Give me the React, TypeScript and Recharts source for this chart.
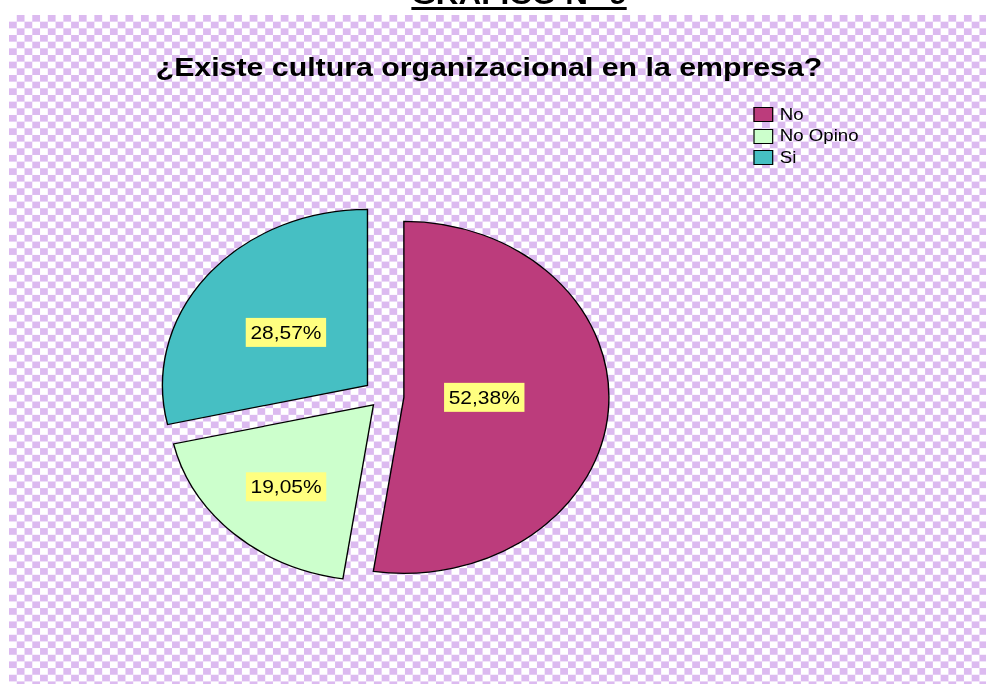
import React from 'react';
import { PieChart, Pie, Cell } from 'recharts';

// ---- data ----
const CATEGORIES = ['No', 'No Opino', 'Si'];
const COUNTS = [11, 4, 6];
const COLORS = ['#BC3C7C', '#CCFFCC', '#46BFC3'];
const TITLE = '¿Existe cultura organizacional en la empresa?';
const HEADING = 'GRAFICO N° 9';

// ---- layout / style ----
const EXPLODE = [18, 12, 17];
const LABEL_DX = [69, -75, -70];
const LABEL_DY = [0, 82, -53];
const SX = 1.165;
const W = 838.6;
const H = 669;
const CX = 321;
const CY = 381;
const R = 176;
const RAD = Math.PI / 180;
const FONT = '"Liberation Sans", Arial, sans-serif';

const data = CATEGORIES.map((name, i) => ({ name, value: COUNTS[i] }));
const total = COUNTS.reduce((a, b) => a + b, 0);
const mids = (() => {
  let acc = 0;
  return COUNTS.map((v) => {
    const m = ((acc + v / 2) / total) * 360;
    acc += v;
    return m;
  });
})();

const makeLabel = (k: number) => (props: any) => {
  if (props.index !== k) return null;
  const x = props.cx + LABEL_DX[k];
  const y = props.cy + LABEL_DY[k];
  const txt = (props.percent * 100).toFixed(2).replace('.', ',') + '%';
  return (
    <g key={`lbl-${k}`}>
      <rect x={x - 34.5} y={y - 14.5} width={69} height={29} fill="#FFFF80" />
      <text
        x={x}
        y={y + 6.5}
        textAnchor="middle"
        fontSize={18}
        fill="#000"
        fontFamily={FONT}
      >
        {txt}
      </text>
    </g>
  );
};

export default function App() {
  return (
    <div
      style={{
        position: 'absolute',
        left: 0,
        top: 0,
        width: 986,
        height: 684,
        overflow: 'hidden',
        background: '#fff',
      }}
    >
      <div
        style={{
          position: 'absolute',
          left: 9,
          top: 15,
          width: W,
          height: H,
          transform: `scaleX(${SX})`,
          transformOrigin: '0 0',
          fontFamily: FONT,
        }}
      >
        <div
          style={{
            position: 'absolute',
            left: 437.8 - 150,
            width: 300,
            top: -33.4,
            fontSize: 27,
            lineHeight: '27px',
            fontWeight: 'bold',
            textAlign: 'center',
            color: '#000',
            textDecoration: 'underline',
            textDecorationThickness: '3px',
            textUnderlineOffset: '3px',
            whiteSpace: 'nowrap',
          }}
        >
          {HEADING}
        </div>
        <div
          style={{
            position: 'absolute',
            left: 0,
            top: 0,
            width: W,
            height: H,
            backgroundImage:
              'repeating-conic-gradient(#dcbaf0 0% 25%, #ffffff 0% 50%)',
            backgroundSize: '13.33px 13.33px',
          }}
        />
        <div
          style={{
            position: 'absolute',
            left: 412 - 400,
            width: 800,
            top: 61 - 0.8465 * 26,
            fontSize: 26,
            lineHeight: '26px',
            fontWeight: 'bold',
            textAlign: 'center',
            color: '#000',
            whiteSpace: 'nowrap',
          }}
        >
          {TITLE}
        </div>
        <div style={{ position: 'absolute', left: 638.6, top: 89 }}>
          {CATEGORIES.map((c, i) => (
            <div
              key={c}
              style={{
                display: 'flex',
                alignItems: 'center',
                height: 21.5,
                fontSize: 16,
                color: '#000',
              }}
            >
              <span
                style={{
                  display: 'inline-block',
                  width: 15,
                  height: 13,
                  background: COLORS[i],
                  border: '1px solid #000',
                  marginRight: 6,
                }}
              />
              <span>{c}</span>
            </div>
          ))}
        </div>
        <div style={{ position: 'absolute', left: 0, top: 0 }}>
          <PieChart
            width={W}
            height={H}
            margin={{ top: 0, right: 0, bottom: 0, left: 0 }}
          >
            {CATEGORIES.map((_, k) => (
              <Pie
                key={k}
                data={data}
                dataKey="value"
                nameKey="name"
                cx={CX + EXPLODE[k] * Math.sin(mids[k] * RAD)}
                cy={CY - EXPLODE[k] * Math.cos(mids[k] * RAD)}
                outerRadius={R}
                startAngle={90}
                endAngle={-270}
                isAnimationActive={false}
                labelLine={false}
                label={makeLabel(k)}
                legendType="none"
              >
                {data.map((d, j) => (
                  <Cell
                    key={d.name}
                    fill={j === k ? COLORS[j] : 'none'}
                    stroke={j === k ? '#000' : 'none'}
                    strokeWidth={1.2}
                  />
                ))}
              </Pie>
            ))}
          </PieChart>
        </div>
      </div>
    </div>
  );
}
